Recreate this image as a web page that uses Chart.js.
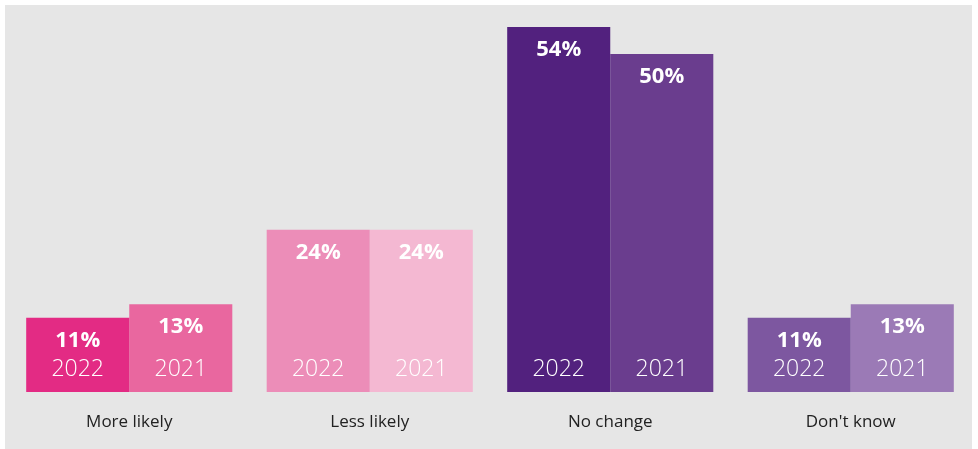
<!DOCTYPE html>
<html>
<head>
<meta charset="utf-8">
<script src="https://cdn.jsdelivr.net/npm/chart.js@4"></script>
<style>
  html, body { margin: 0; padding: 0; background: #fff; }
  #wrap { width: 978px; height: 449px; position: relative; }
</style>
</head>
<body>
<div id="wrap"><canvas id="likelyChart"></canvas></div>
<script>
// answers and survey years
const categories = ['More likely', 'Less likely', 'No change', "Don't know"];
const years = ['2022', '2021'];
const values2022 = [11, 24, 54, 11];
const values2021 = [13, 24, 50, 13];

const colors2022 = ['#E32B84', '#EC8DB8', '#52217E', '#7D57A0'];
const colors2021 = ['#E9679F', '#F4B8D2', '#6A3D8E', '#9B7AB6'];

// grey panel behind the chart
const panel = {
  id: 'panel',
  beforeDraw(chart) {
    const ctx = chart.ctx;
    ctx.save();
    ctx.fillStyle = '#E6E6E6';
    ctx.fillRect(5, 5, 967, 444);
    ctx.restore();
  }
};

// value at the top of each bar, year near the bottom
const barLabels = {
  id: 'barLabels',
  afterDatasetsDraw(chart) {
    const ctx = chart.ctx;
    ctx.save();
    ctx.fillStyle = '#fff';
    ctx.textAlign = 'center';
    ctx.textBaseline = 'middle';
    chart.data.datasets.forEach((ds, i) => {
      chart.getDatasetMeta(i).data.forEach((bar, j) => {
        ctx.font = 'bold 22px "Open Sans"';
        ctx.fillText(ds.data[j] + '%', bar.x, bar.y + 23);
        ctx.font = '300 23px "Open Sans"';
        ctx.fillText(ds.label, bar.x, bar.base - 23);
      });
    });
    ctx.restore();
  }
};

new Chart(document.getElementById('likelyChart'), {
  type: 'bar',
  data: {
    labels: categories,
    datasets: [
      { label: years[0], data: values2022, backgroundColor: colors2022 },
      { label: years[1], data: values2021, backgroundColor: colors2021 }
    ]
  },
  options: {
    responsive: true,
    maintainAspectRatio: false,
    animation: false,
    layout: { padding: { top: 27, left: 9, right: 7, bottom: 0 } },
    datasets: { bar: { barPercentage: 1, categoryPercentage: 0.857 } },
    plugins: {
      legend: { display: false },
      tooltip: { enabled: false }
    },
    scales: {
      x: {
        grid: { display: false, drawTicks: false },
        border: { display: false },
        afterFit(scale) { scale.height = 57; },
        ticks: {
          color: '#222',
          padding: 20,
          font: { family: '"Open Sans"', size: 17 }
        }
      },
      y: {
        display: false,
        min: 0,
        max: 54
      }
    }
  },
  plugins: [panel, barLabels]
});
</script>
</body>
</html>
